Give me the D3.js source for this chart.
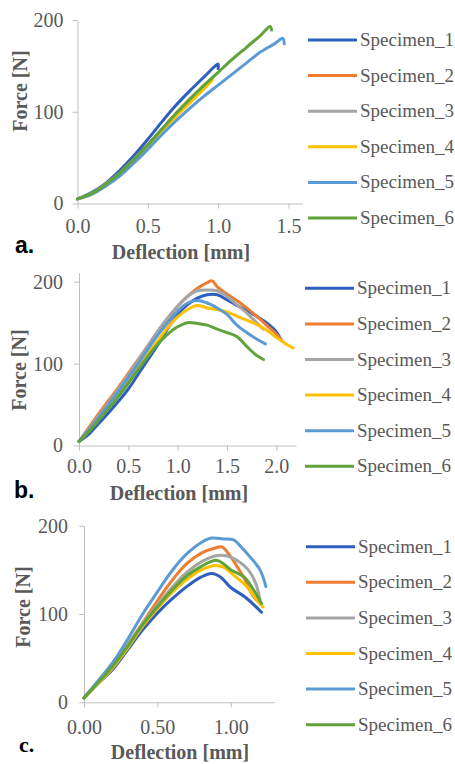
<!DOCTYPE html>
<html>
<head>
<meta charset="utf-8">
<script src="https://cdn.jsdelivr.net/npm/d3@7"></script>
<style>
  body { margin: 0; background: #fff; }
  svg { display: block; }
  .serif { font-family: "Liberation Serif", "Times New Roman", Times, "DejaVu Serif", serif; }
  .tick text { font-family: "Liberation Serif", "Times New Roman", Times, "DejaVu Serif", serif; font-size: 20px; fill: #595959; }
  .domain, .tick line { stroke: #bfbfbf; }
</style>
</head>
<body>
<svg id="chart" width="455" height="764"></svg>
<script>
'use strict';

const names = ['Specimen_1', 'Specimen_2', 'Specimen_3', 'Specimen_4', 'Specimen_5', 'Specimen_6'];
const colors = ['#2e5fbf', '#ed7d31', '#a5a5a5', '#ffc000', '#5b9bd5', '#5fa33a'];

// panel a
const a1 = [[0,5],[0.1,12],[0.2,22],[0.3,36],[0.4,52],[0.5,70],[0.6,89],[0.7,107],[0.8,123],[0.9,138],[0.98,150],[1.0,152],[1.0,147]];
const a2 = [[0,5],[0.1,11],[0.2,21],[0.3,33],[0.4,48],[0.5,64],[0.6,81],[0.7,98],[0.8,113],[0.9,127],[0.95,134]];
const a3 = [[0,5],[0.1,11],[0.2,21],[0.3,33],[0.4,48],[0.5,64],[0.6,81],[0.7,97],[0.8,112],[0.9,126],[0.94,132]];
const a4 = [[0,5],[0.1,10],[0.2,19],[0.3,31],[0.4,46],[0.5,62],[0.6,79],[0.7,95],[0.8,110],[0.9,125],[0.96,135]];
const a5 = [[0,5],[0.1,10],[0.2,19],[0.3,30],[0.4,44],[0.5,59],[0.6,75],[0.7,90],[0.8,104],[0.9,117],[1.0,129],[1.1,141],[1.2,153],[1.3,165],[1.4,174],[1.46,180],[1.47,174]];
const a6 = [[0,5],[0.1,11],[0.2,21],[0.3,33],[0.4,48],[0.5,64],[0.6,81],[0.7,98],[0.8,114],[0.9,129],[1.0,143],[1.1,157],[1.2,170],[1.3,183],[1.37,193],[1.38,189]];

// panel b
const b1 = [[0,5],[0.1,14],[0.2,27],[0.3,40],[0.4,54],[0.5,69],[0.6,87],[0.7,105],[0.8,123],[0.9,143],[1.0,160],[1.1,172],[1.2,180],[1.3,184],[1.4,184],[1.5,178],[1.6,171],[1.7,165],[1.8,158],[1.9,150],[2.0,139],[2.05,128]];
const b2 = [[0,5],[0.1,22],[0.2,39],[0.3,55],[0.4,71],[0.5,88],[0.6,105],[0.7,122],[0.8,139],[0.9,155],[1.0,170],[1.1,182],[1.2,192],[1.3,199],[1.35,201],[1.4,194],[1.5,185],[1.6,177],[1.7,168],[1.8,158],[1.9,147],[2.0,136],[2.05,129]];
const b3 = [[0,5],[0.1,20],[0.2,36],[0.3,52],[0.4,69],[0.5,86],[0.6,104],[0.7,122],[0.8,140],[0.9,156],[1.0,170],[1.1,182],[1.2,189],[1.3,190],[1.4,189],[1.5,182],[1.6,172],[1.7,162],[1.8,150],[1.87,142]];
const b4 = [[0,5],[0.1,18],[0.2,32],[0.3,47],[0.4,62],[0.5,78],[0.6,95],[0.7,112],[0.8,128],[0.9,144],[1.0,157],[1.1,166],[1.2,171],[1.3,168],[1.4,166],[1.5,163],[1.6,158],[1.7,153],[1.8,148],[1.9,141],[2.0,132],[2.1,124],[2.17,119]];
const b5 = [[0,5],[0.1,19],[0.2,34],[0.3,50],[0.4,66],[0.5,83],[0.6,100],[0.7,118],[0.8,135],[0.9,150],[1.0,164],[1.1,174],[1.2,177],[1.3,174],[1.4,168],[1.5,160],[1.6,147],[1.7,138],[1.8,130],[1.89,124]];
const b6 = [[0,5],[0.1,17],[0.2,31],[0.3,45],[0.4,60],[0.5,76],[0.6,93],[0.7,109],[0.8,124],[0.9,136],[1.0,145],[1.1,150],[1.2,149],[1.3,147],[1.4,142],[1.5,138],[1.6,133],[1.7,121],[1.8,110],[1.87,105]];

// panel c
const c1 = [[0,5],[0.1,22],[0.2,38],[0.3,60],[0.4,82],[0.5,101],[0.6,117],[0.7,131],[0.8,142],[0.87,146],[0.93,142],[1.0,130],[1.1,119],[1.21,102]];
const c2 = [[0,5],[0.1,24],[0.2,43],[0.3,66],[0.4,90],[0.5,115],[0.6,138],[0.7,157],[0.8,169],[0.9,175],[0.94,176],[1.0,165],[1.05,152],[1.1,138],[1.15,121],[1.2,112]];
const c3 = [[0,5],[0.1,24],[0.2,42],[0.3,65],[0.4,89],[0.5,110],[0.6,130],[0.7,147],[0.8,159],[0.9,166],[0.97,166],[1.05,160],[1.12,150],[1.17,135],[1.2,116]];
const c4 = [[0,5],[0.1,22],[0.2,40],[0.3,62],[0.4,86],[0.5,106],[0.6,124],[0.7,139],[0.8,150],[0.9,155],[0.95,153],[1.02,144],[1.11,131],[1.18,116],[1.22,108]];
const c5 = [[0,5],[0.1,25],[0.2,46],[0.3,72],[0.4,100],[0.5,125],[0.6,149],[0.7,168],[0.8,181],[0.87,186],[0.95,185],[1.02,184],[1.06,178],[1.13,165],[1.2,150],[1.24,131]];
const c6 = [[0,5],[0.1,23],[0.2,42],[0.3,64],[0.4,88],[0.5,108],[0.6,127],[0.7,143],[0.8,154],[0.9,161],[0.95,157],[1.0,150],[1.09,142],[1.15,129],[1.21,112]];

const xTicksA = [0, 0.5, 1.0, 1.5];
const xTicksB = [0, 0.5, 1.0, 1.5, 2.0];
const xTicksC = [0, 0.5, 1.0];
const yTicks = [0, 100, 200];

const svg = d3.select('#chart');

function panel(opt) {
  const g = svg.append('g');

  const x = d3.scaleLinear().domain(opt.xDomain).range(opt.xRange);
  const y = d3.scaleLinear().domain(opt.yDomain).range(opt.yRange);

  g.append('g')
    .attr('transform', 'translate(0,' + opt.yRange[0] + ')')
    .call(d3.axisBottom(x).tickValues(opt.xTicks).tickFormat(d3.format(opt.fmt))
      .tickSizeInner(5).tickSizeOuter(0).tickPadding(opt.xPad));

  g.append('g')
    .attr('transform', 'translate(' + opt.xRange[0] + ',0)')
    .call(d3.axisLeft(y).tickValues(yTicks).tickFormat(d3.format('d'))
      .tickSizeInner(5).tickSizeOuter(0).tickPadding(opt.yPad));

  const line = d3.line()
    .x(d => x(d[0]))
    .y(d => y(d[1]))
    .curve(d3.curveCatmullRom.alpha(0.5));

  g.append('g')
    .selectAll('path')
    .data(opt.series)
    .enter().append('path')
    .attr('d', line)
    .attr('fill', 'none')
    .attr('stroke', (d, i) => colors[i])
    .attr('stroke-width', 3)
    .attr('stroke-linejoin', 'round')
    .attr('stroke-linecap', 'round');

  g.append('text')
    .attr('class', 'serif')
    .attr('transform', 'translate(' + opt.yTitle[0] + ',' + opt.yTitle[1] + ') rotate(-90)')
    .attr('text-anchor', 'middle')
    .attr('font-weight', 'bold')
    .attr('font-size', 20)
    .attr('fill', '#595959')
    .text('Force [N]');

  g.append('text')
    .attr('class', 'serif')
    .attr('x', opt.xTitle[0])
    .attr('y', opt.xTitle[1])
    .attr('text-anchor', 'middle')
    .attr('font-weight', 'bold')
    .attr('font-size', 20)
    .attr('fill', '#595959')
    .text('Deflection [mm]');

  g.append('text')
    .attr('class', opt.tagSerif ? 'serif' : null)
    .attr('font-family', opt.tagSerif ? null : '"Liberation Sans", Arial, sans-serif')
    .attr('x', opt.tag[0])
    .attr('y', opt.tag[1])
    .attr('font-weight', 'bold')
    .attr('font-size', opt.tagSize)
    .attr('fill', '#000')
    .text(opt.tagText);

  const legend = g.append('g')
    .selectAll('g')
    .data(names)
    .enter().append('g')
    .attr('transform', (d, i) => 'translate(0,' + (opt.legend[2] + i * 35.6) + ')');

  legend.append('line')
    .attr('x1', opt.legend[0])
    .attr('x2', opt.legend[0] + 49)
    .attr('stroke', (d, i) => colors[i])
    .attr('stroke-width', 3);

  legend.append('text')
    .attr('class', 'serif')
    .attr('x', opt.legend[1])
    .attr('y', 6)
    .attr('font-size', 19)
    .attr('fill', '#595959')
    .text(d => d);
}

panel({
  series: [a1, a2, a3, a4, a5, a6],
  xDomain: [0, 1.6], xRange: [77.5, 302.5],
  yDomain: [0, 200], yRange: [203.5, 20],
  xTicks: xTicksA, fmt: '.1f', xPad: 10, yPad: 9,
  yTitle: [27, 91], xTitle: [181, 259],
  tag: [15, 253], tagSize: 23, tagSerif: false, tagText: 'a.',
  legend: [308, 360, 40]
});

panel({
  series: [b1, b2, b3, b4, b5, b6],
  xDomain: [0, 2.2], xRange: [79, 296],
  yDomain: [0, 211], yRange: [445.5, 272.7],
  xTicks: xTicksB, fmt: '.1f', xPad: 8, yPad: 11,
  yTitle: [26, 370], xTitle: [179, 500],
  tag: [14, 498], tagSize: 23, tagSerif: false, tagText: 'b.',
  legend: [305, 357, 288.3]
});

panel({
  series: [c1, c2, c3, c4, c5, c6],
  xDomain: [0, 1.3], xRange: [84, 274.7],
  yDomain: [0, 200], yRange: [702.3, 525.7],
  xTicks: xTicksC, fmt: '.2f', xPad: 13, yPad: 11,
  yTitle: [30, 607], xTitle: [180, 759],
  tag: [19, 752], tagSize: 22, tagSerif: true, tagText: 'c.',
  legend: [306, 358, 546.7]
});
</script>
</body>
</html>
